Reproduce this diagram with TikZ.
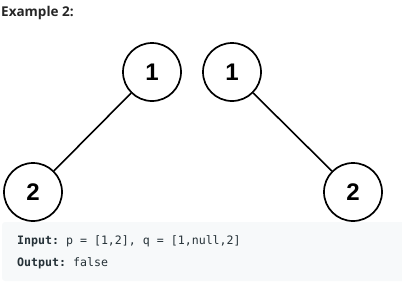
\documentclass[tikz,border=0pt]{standalone}
\usepackage{fontspec}
\setmainfont{Liberation Sans}
\setmonofont{DejaVu Sans Mono}
\newfontfamily\headfont{Open Sans}
\usetikzlibrary{positioning}
\definecolor{codebg}{HTML}{F7F9FA}
\definecolor{codetext}{HTML}{263238}
\definecolor{headtext}{HTML}{262626}

\begin{document}
\begin{tikzpicture}[
  x=1pt, y=-1pt,
  treenode/.style={circle,draw=black,line width=1.7pt,minimum size=58pt,
                   inner sep=0pt,font=\fontsize{24}{24}\selectfont\bfseries},
  edge/.style={black,line width=1.6pt},
  codeline/.style={anchor=west,inner sep=0pt,text=codetext,
                   font=\ttfamily\fontsize{11.6}{12}\selectfont}
]
  \useasboundingbox (0,0) rectangle (402,285);

  \node[anchor=west,inner sep=0pt,text=headtext,
        font=\headfont\fontsize{13.5}{13.5}\selectfont\bfseries] (title) at (1,13) {Example 2:};

  % tree p
  \node[treenode] (p1) at (152,72)  {1};
  \node[treenode] (p2) at (33,192)  {2};
  % tree q
  \node[treenode] (q1) at (232,72)  {1};
  \node[treenode] (q2) at (353,192) {2};

  \draw[edge] (p1) -- (p2);
  \draw[edge] (q1) -- (q2);

  \fill[codebg,rounded corners=3pt] (2,222) rectangle (410,281);
  \node[codeline] (input)  at (17,241) {\textbf{Input:} p = [1,2], q = [1,null,2]};
  \node[codeline] (output) at (17,263) {\textbf{Output:} false};
\end{tikzpicture}
\end{document}
